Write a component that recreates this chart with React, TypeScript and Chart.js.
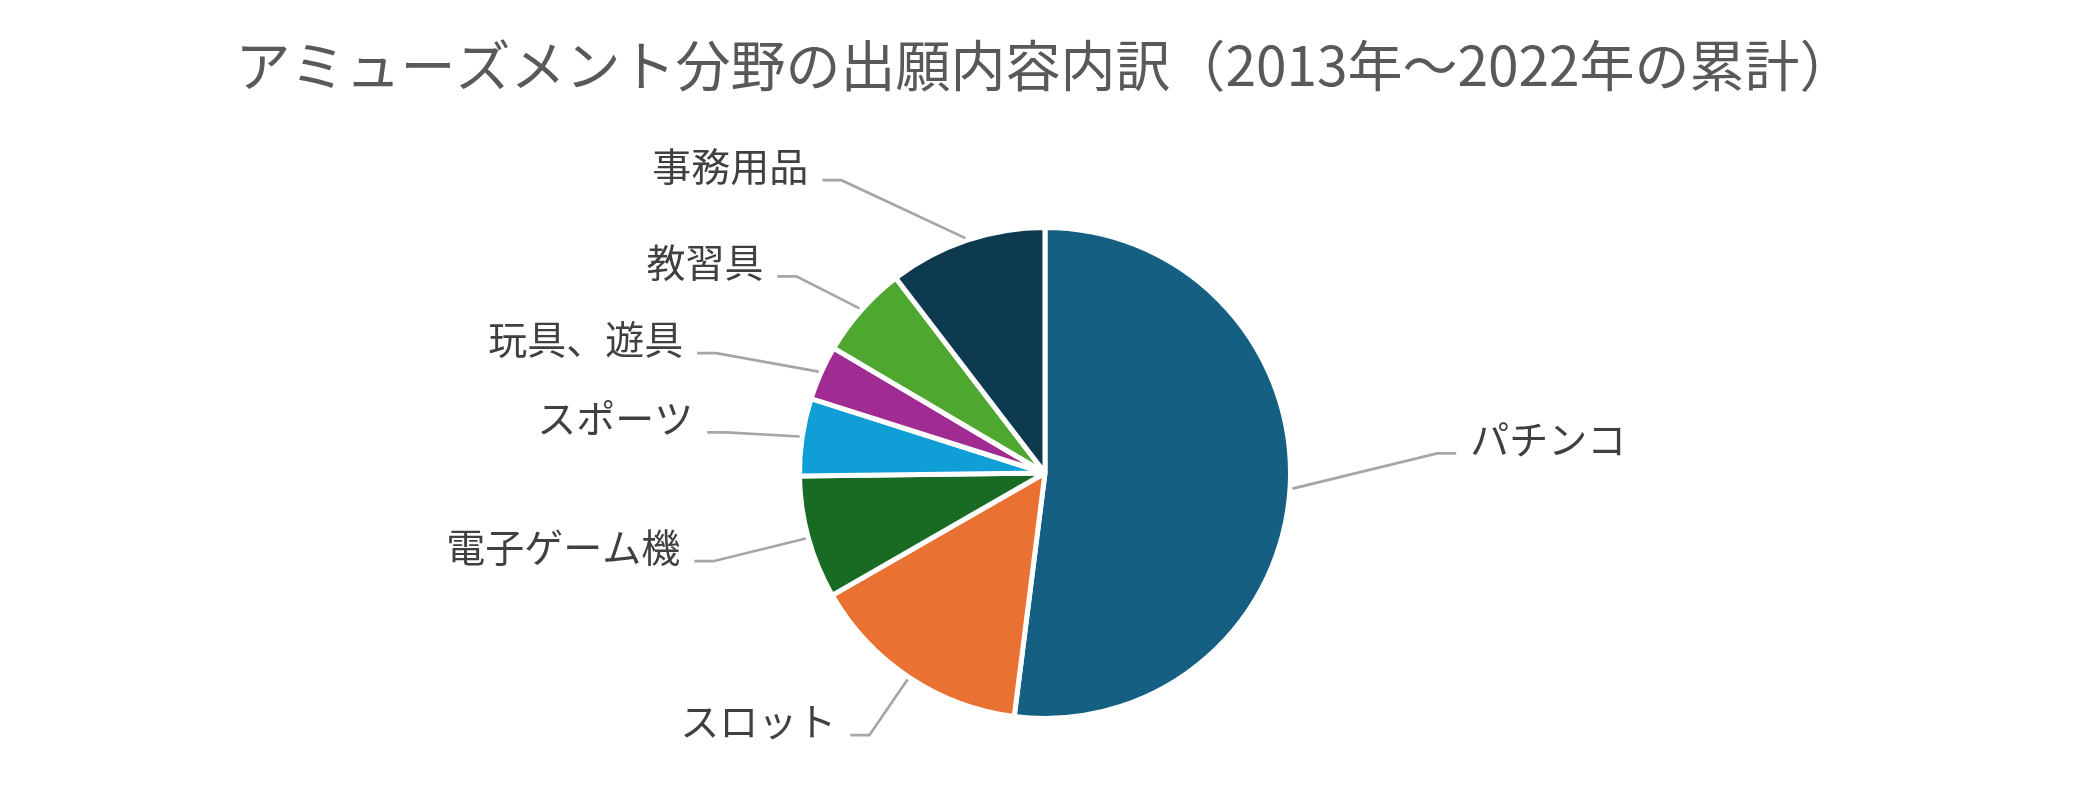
// App.tsx
import React, { useEffect, useRef } from "react";
import { Chart, registerables, Plugin } from "chart.js";

Chart.register(...registerables);

const titleText = "アミューズメント分野の出願内容内訳（2013年～2022年の累計）";

// clockwise from 12 o'clock
const categories = [
  "パチンコ",
  "スロット",
  "電子ゲーム機",
  "スポーツ",
  "玩具、遊具",
  "教習具",
  "事務用品",
];
const shares = [52.0, 14.7, 8.1, 5.1, 3.6, 6.1, 10.4];

const sliceColors = [
  "#156082",
  "#E97132",
  "#196B24",
  "#0F9ED5",
  "#A02B93",
  "#4EA72E",
  "#0D3A4F",
];

// where each leader line bends, relative to the pie centre, in radii
const labelElbows: [number, number][] = [
  [1.614, -0.081],
  [-0.723, 1.079],
  [-1.365, 0.363],
  [-1.312, -0.167],
  [-1.353, -0.493],
  [-1.023, -0.809],
  [-0.838, -1.205],
];

const FONT = '"Noto Sans CJK JP", "Noto Sans", sans-serif';

const leaderLabels: Plugin<"pie"> = {
  id: "leaderLabels",
  afterDatasetsDraw(chart) {
    const { ctx } = chart;
    const meta = chart.getDatasetMeta(0);
    ctx.save();
    meta.data.forEach((el: any, i: number) => {
      const { x, y, startAngle, endAngle } = el;
      const R = el.outerRadius - 2.5;
      const mid = (startAngle + endAngle) / 2;
      const sx = x + Math.cos(mid) * (R + 5);
      const sy = y + Math.sin(mid) * (R + 5);
      const [fx, fy] = labelElbows[i];
      const ex = x + fx * R;
      const ey = y + fy * R;
      const left = ex < x;
      const hx = left ? ex - 19 : ex + 19;

      ctx.strokeStyle = "#A6A6A6";
      ctx.lineWidth = 2.7;
      ctx.beginPath();
      ctx.moveTo(sx, sy);
      ctx.lineTo(ex, ey);
      ctx.lineTo(hx, ey);
      ctx.stroke();

      ctx.fillStyle = "#404040";
      ctx.font = `39px ${FONT}`;
      ctx.textBaseline = "middle";
      ctx.textAlign = left ? "right" : "left";
      ctx.fillText(categories[i], left ? hx - 14 : hx + 14, ey - 14);
    });
    ctx.restore();
  },
};

const App: React.FC = () => {
  const chartRef = useRef<HTMLCanvasElement>(null);
  const chartInstance = useRef<Chart<"pie"> | null>(null);

  useEffect(() => {
    if (chartRef.current) {
      const ctx = chartRef.current.getContext("2d");
      if (ctx) {
        chartInstance.current = new Chart(ctx, {
          type: "pie",
          data: {
            labels: categories,
            datasets: [
              {
                data: shares,
                backgroundColor: sliceColors,
                borderColor: "#FFFFFF",
                borderWidth: 5,
              },
            ],
          },
          options: {
            responsive: true,
            maintainAspectRatio: false,
            animation: false,
            layout: {
              padding: { top: 0, bottom: 83 },
            },
            plugins: {
              legend: { display: false },
              tooltip: { enabled: false },
              title: {
                display: true,
                text: titleText,
                color: "#595959",
                font: { family: FONT, size: 55, weight: "normal", lineHeight: 1.2 },
                padding: { top: 24, bottom: 127 },
              },
            },
          },
          plugins: [leaderLabels],
        });
      }
    }

    return () => {
      if (chartInstance.current) {
        chartInstance.current.destroy();
      }
    };
  }, []);

  return (
    <div style={{ position: "relative", width: "100%", height: 796 }}>
      <canvas ref={chartRef} />
    </div>
  );
};

export default App;
